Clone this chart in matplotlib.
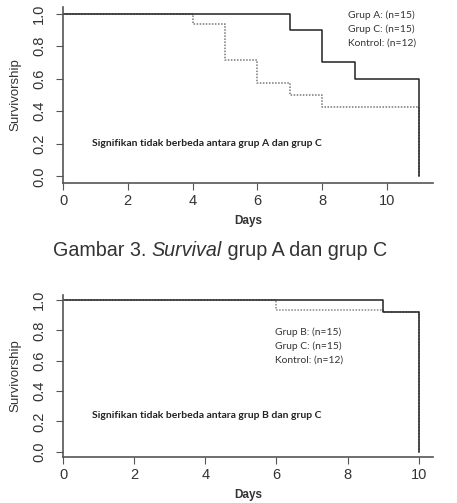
import matplotlib.pyplot as plt

# chart 1: grup A vs grup C
days_a = [0, 7, 8, 9, 11, 11]
surv_a = [1.0, 0.9, 0.7, 0.6, 0.6, 0.0]
days_c1 = [0, 4, 5, 6, 7, 8, 11, 11]
surv_c1 = [1.0, 0.933, 0.714, 0.571, 0.5, 0.429, 0.429, 0.0]
legend1 = ["Grup A: (n=15)", "Grup C: (n=15)", "Kontrol: (n=12)"]
note1 = "Signifikan tidak berbeda antara grup A dan grup C"

# chart 2: grup B vs grup C
days_b = [0, 9, 10, 10]
surv_b = [1.0, 0.923, 0.923, 0.0]
days_c2 = [0, 6, 9, 10, 10]
surv_c2 = [1.0, 0.933, 0.923, 0.923, 0.0]
legend2 = ["Grup B: (n=15)", "Grup C: (n=15)", "Kontrol: (n=12)"]
note2 = "Signifikan tidak berbeda antara grup B dan grup C"

xticks = [0, 2, 4, 6, 8, 10]
yticks = [0.0, 0.2, 0.4, 0.6, 0.8, 1.0]

W, H = 457, 503
fig = plt.figure(figsize=(W / 100, H / 100), dpi=100)
plt.rcParams['font.family'] = ['Liberation Sans', 'DejaVu Sans']


def axes_px(x0, x1, ytop, ybot):
    return fig.add_axes([x0 / W, 1 - ybot / H, (x1 - x0) / W, (ybot - ytop) / H])


def style(ax, xmax):
    ax.set_xlim(0, xmax)
    ax.set_ylim(-0.04, 1.04)
    for s in ['top', 'right']:
        ax.spines[s].set_visible(False)
    for s in ['left', 'bottom']:
        ax.spines[s].set_color('#555555')
        ax.spines[s].set_linewidth(1.2)
    ax.set_xticks(xticks)
    ax.set_yticks(yticks)
    ax.set_yticklabels(['%.1f' % v for v in yticks], rotation=90, va='center')
    ax.tick_params(direction='out', length=5, width=0.8, colors='#555555',
                   labelcolor='#333333', labelsize=10.5, pad=3)
    ax.tick_params(axis='y', pad=7)
    ax.set_ylabel('Survivorship', fontsize=9.5, color='#333333', labelpad=8)
    ax.set_xlabel('Days', fontsize=8.5, fontweight='bold', color='#333333', labelpad=5)


def legend_text(x, y, lines):
    for i, t in enumerate(lines):
        fig.text(x / W, 1 - (y + 14 * i) / H, t, fontsize=7.4, family='Lato',
                 color='#333333', va='center')


ax1 = axes_px(63, 433, 7, 183)
style(ax1, 11.42)
ax1.step(days_c1, surv_c1, where='post', color='#777777', lw=1.1, ls=(0, (1, 1)))
ax1.step(days_a, surv_a, where='post', color='#222222', lw=1.1)
legend_text(348, 15, legend1)
fig.text(92 / W, 1 - 144 / H, note1, fontsize=7.5, family='Lato', fontweight='bold',
         color='#222222', va='center')

ax2 = axes_px(63, 433, 295, 457)
style(ax2, 10.4)
ax2.set_ylim(-0.035, 1.033)
ax2.step(days_c2, surv_c2, where='post', color='#888888', lw=1.1, ls=(0, (1, 1)))
ax2.step(days_b, surv_b, where='post', color='#222222', lw=1.1)
legend_text(275, 332, legend2)
fig.text(92 / W, 1 - 415 / H, note2, fontsize=7.5, family='Lato', fontweight='bold',
         color='#222222', va='center')

# caption with one italic word
r = fig.canvas.get_renderer()
cap_y = 1 - 251 / H
parts = [('Gambar 3. ', 'normal'), ('Survival', 'italic'), (' grup A dan grup C', 'normal')]
x = 53 / W
for txt, st in parts:
    t = fig.text(x, cap_y, txt, fontsize=14.2, style=st, color='#333333', va='center')
    x += t.get_window_extent(renderer=r).width / W

fig.savefig('out.png', dpi=100)
